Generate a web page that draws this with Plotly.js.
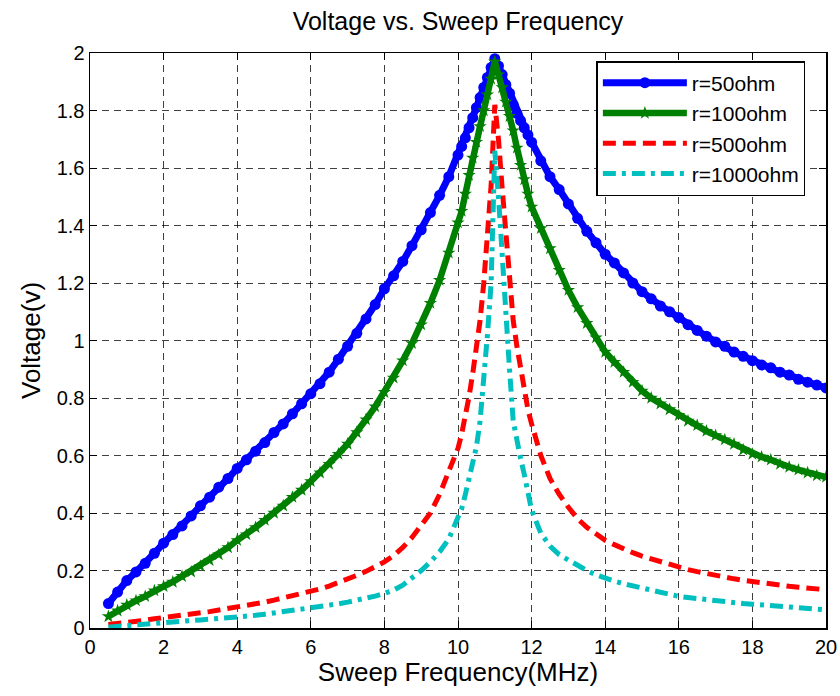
<!DOCTYPE html>
<html>
<head>
<meta charset="utf-8">
<script src="https://cdn.plot.ly/plotly-3.0.1.min.js"></script>
<style>html,body{margin:0;padding:0;background:#fff;}#chart{width:840px;height:696px;}</style>
</head>
<body>
<div id="chart"></div>
<script>
// Sweep frequency (MHz)
const freq = [0.5,0.75,1,1.25,1.5,1.75,2,2.25,2.5,2.75,3,3.25,3.5,3.75,4,4.25,4.5,4.75,5,5.25,5.5,5.75,6,6.25,6.5,6.75,7,7.25,7.5,7.75,8,8.25,8.5,8.75,9,9.25,9.5,9.75,10,
  10.1,10.2,10.3,10.4,10.5,10.6,10.7,10.8,10.9,11,11.1,11.2,11.3,11.4,11.5,11.6,11.7,11.8,11.9,
  12,12.25,12.5,12.75,13,13.25,13.5,13.75,14,14.25,14.5,14.75,15,15.25,15.5,15.75,16,16.25,16.5,16.75,17,17.25,17.5,17.75,18,18.25,18.5,18.75,19,19.25,19.5,19.75,20];

const v50 = [0.085,0.125,0.165,0.195,0.225,0.26,0.295,0.325,0.355,0.39,0.425,0.455,0.49,0.52,0.555,0.585,0.615,0.645,0.68,0.71,0.745,0.78,0.815,0.85,0.89,0.935,0.98,1.025,1.075,1.125,1.18,1.225,1.275,1.33,1.385,1.445,1.505,1.57,1.645,
  1.675,1.705,1.74,1.775,1.81,1.845,1.88,1.915,1.95,1.98,1.955,1.925,1.89,1.86,1.82,1.79,1.765,1.74,1.715,
  1.69,1.625,1.57,1.525,1.475,1.425,1.38,1.34,1.30,1.27,1.235,1.2,1.17,1.145,1.12,1.1,1.08,1.055,1.035,1.015,0.995,0.98,0.96,0.945,0.93,0.915,0.905,0.89,0.88,0.865,0.855,0.845,0.835];

const v100 = [0.04,0.06,0.08,0.095,0.11,0.13,0.145,0.16,0.18,0.195,0.215,0.235,0.255,0.28,0.305,0.325,0.35,0.375,0.40,0.425,0.455,0.48,0.51,0.54,0.57,0.605,0.64,0.68,0.725,0.77,0.82,0.87,0.93,0.99,1.055,1.13,1.21,1.305,1.41,
  1.45,1.51,1.575,1.635,1.69,1.745,1.8,1.855,1.91,1.97,1.925,1.88,1.83,1.78,1.73,1.67,1.61,1.56,1.51,
  1.465,1.39,1.32,1.245,1.175,1.115,1.06,1.01,0.96,0.925,0.89,0.855,0.825,0.8,0.78,0.76,0.74,0.72,0.705,0.685,0.67,0.655,0.64,0.62,0.605,0.595,0.585,0.57,0.56,0.55,0.54,0.53,0.525];

const v500 = [0.012,0.015,0.018,0.022,0.027,0.032,0.037,0.041,0.045,0.049,0.053,0.057,0.062,0.067,0.072,0.078,0.084,0.09,0.097,0.104,0.111,0.119,0.127,0.136,0.146,0.157,0.17,0.183,0.197,0.212,0.23,0.252,0.28,0.315,0.355,0.4,0.465,0.54,0.625,
  0.675,0.735,0.805,0.885,0.97,1.07,1.2,1.35,1.54,1.82,1.7,1.53,1.36,1.19,1.07,0.98,0.9,0.82,0.76,
  0.71,0.6,0.52,0.465,0.42,0.38,0.35,0.325,0.305,0.29,0.275,0.262,0.25,0.24,0.23,0.22,0.21,0.203,0.196,0.189,0.182,0.177,0.171,0.166,0.161,0.157,0.153,0.149,0.145,0.142,0.139,0.136,0.133];

const v1000 = [0.003,0.006,0.009,0.011,0.014,0.017,0.02,0.022,0.024,0.026,0.028,0.03,0.032,0.034,0.037,0.04,0.044,0.048,0.052,0.056,0.06,0.065,0.07,0.075,0.079,0.084,0.09,0.096,0.103,0.111,0.12,0.132,0.149,0.172,0.2,0.23,0.265,0.31,0.38,
  0.415,0.465,0.515,0.57,0.63,0.72,0.85,1.02,1.2,1.66,1.5,1.28,1.07,0.9,0.72,0.645,0.59,0.535,0.47,
  0.41,0.33,0.285,0.255,0.235,0.215,0.2,0.185,0.173,0.163,0.154,0.146,0.138,0.131,0.124,0.117,0.11,0.106,0.102,0.098,0.094,0.091,0.088,0.085,0.083,0.081,0.079,0.077,0.075,0.072,0.069,0.066,0.063];

const seriesNames = ["r=50ohm","r=100ohm","r=500ohm","r=1000ohm"];
const xTicks = [0,2,4,6,8,10,12,14,16,18,20];
const yTicks = [0,0.2,0.4,0.6,0.8,1,1.2,1.4,1.6,1.8,2];

const FONT = "Arial, 'Liberation Sans', Helvetica, sans-serif";

const traces = [
  {x: freq, y: v50, name: seriesNames[0], type: "scatter", mode: "lines+markers",
   line: {color: "#0000FF", width: 7}, marker: {symbol: "circle", size: 11, color: "#0000FF"}},
  {x: freq, y: v100, name: seriesNames[1], type: "scatter", mode: "lines+markers",
   line: {color: "#008000", width: 6.5}, marker: {symbol: "star", size: 10, color: "#008000"}},
  {x: freq, y: v500, name: seriesNames[2], type: "scatter", mode: "lines",
   line: {color: "#FF0000", width: 5, dash: "13px,7px"}},
  {x: freq, y: v1000, name: seriesNames[3], type: "scatter", mode: "lines",
   line: {color: "#00BFBF", width: 5, dash: "13px,6px,4px,6px"}}
];

const axisCommon = {
  showline: true, linecolor: "#000", linewidth: 1.5, mirror: "ticks",
  ticks: "inside", ticklen: 7, tickcolor: "#000", tickwidth: 1,
  showgrid: true, gridcolor: "rgba(0,0,0,0.75)", gridwidth: 1, griddash: "7px,5px",
  zeroline: false, tickfont: {family: FONT, size: 20, color: "#000"}
};

const layout = {
  width: 840, height: 696,
  margin: {l: 90, r: 14, t: 53, b: 68},
  paper_bgcolor: "#fff", plot_bgcolor: "#fff",
  title: {text: "Voltage vs. Sweep Frequency", font: {family: FONT, size: 25, color: "#000"},
          x: 0.5, xref: "paper", y: 1 - 21/696, yref: "container", yanchor: "middle"},
  xaxis: Object.assign({}, axisCommon, {range: [0, 20], tickvals: xTicks, ticktext: xTicks.map(String),
    title: {text: "Sweep Frequency(MHz)", font: {family: FONT, size: 26, color: "#000"}, standoff: 6}}),
  yaxis: Object.assign({}, axisCommon, {range: [0, 2], tickvals: yTicks, ticktext: yTicks.map(String),
    title: {text: "Voltage(v)", font: {family: FONT, size: 26, color: "#000"}, standoff: 8}}),
  showlegend: true,
  legend: {x: 0.688, y: 0.986, xanchor: "left", yanchor: "top", bgcolor: "#fff",
           bordercolor: "#000", borderwidth: 1.5, font: {family: FONT, size: 21, color: "#000"},
           itemwidth: 84, tracegroupgap: 0}
};

Plotly.newPlot("chart", traces, layout, {displayModeBar: false, staticPlot: true});
</script>
</body>
</html>
